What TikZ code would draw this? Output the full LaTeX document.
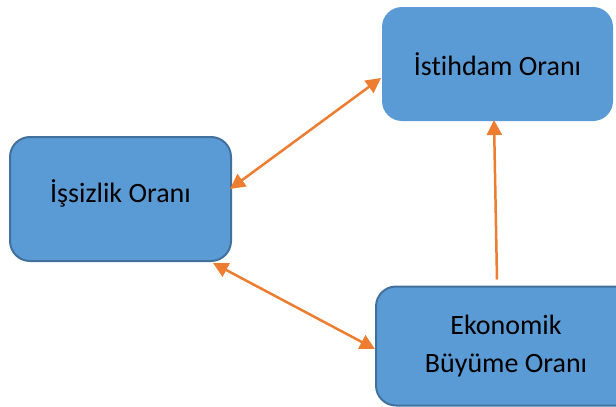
\documentclass[tikz,border=0pt]{standalone}
\usepackage{fontspec}
\setmainfont{Carlito}[Ligatures=NoCommon]
\usetikzlibrary{arrows.meta}
\definecolor{boxblue}{HTML}{5B9BD5}
\definecolor{boxedge}{HTML}{41719C}
\definecolor{linkorange}{HTML}{ED7D31}

\begin{document}
\begin{tikzpicture}[
x=1pt,y=-1pt,
>={Triangle[length=15pt,width=15pt]},
box/.style={%
    rectangle,
    rounded corners=20pt,
    fill=boxblue,
    draw=boxedge,
    line width=2pt,
    inner sep=0pt,
    align=center,
    font=\fontsize{28}{38}\selectfont,
},
link/.style={%
    linkorange,
    line width=2.5pt,
},
]
\clip (0,0) rectangle (616,407);
% Nodes
\node[box,draw=none,minimum width=231pt,minimum height=114pt]
                at (497.5,64)   (ist)   {İstihdam Oranı};
\node[box,minimum width=221pt,minimum height=124pt,text depth=16pt]
                at (120.5,199)  (isz)   {İşsizlik Oranı};
\node[box,minimum width=260pt,minimum height=119pt]
                at (506,346)    (eko)   {Ekonomik\\Büyüme Oranı};

% Lines
\draw[link,<->] ([xshift=-2pt,yshift=10pt]isz.east) -- ([yshift=-14pt]ist.west);
\draw[link,<->] ([xshift=-19pt,yshift=-1pt]isz.south east) -- ([yshift=-3pt]eko.west);
\draw[link,->]  ([xshift=-9pt,yshift=6pt]eko.north) -- ([xshift=-3.5pt,yshift=2pt]ist.south);
\end{tikzpicture}
\end{document}
